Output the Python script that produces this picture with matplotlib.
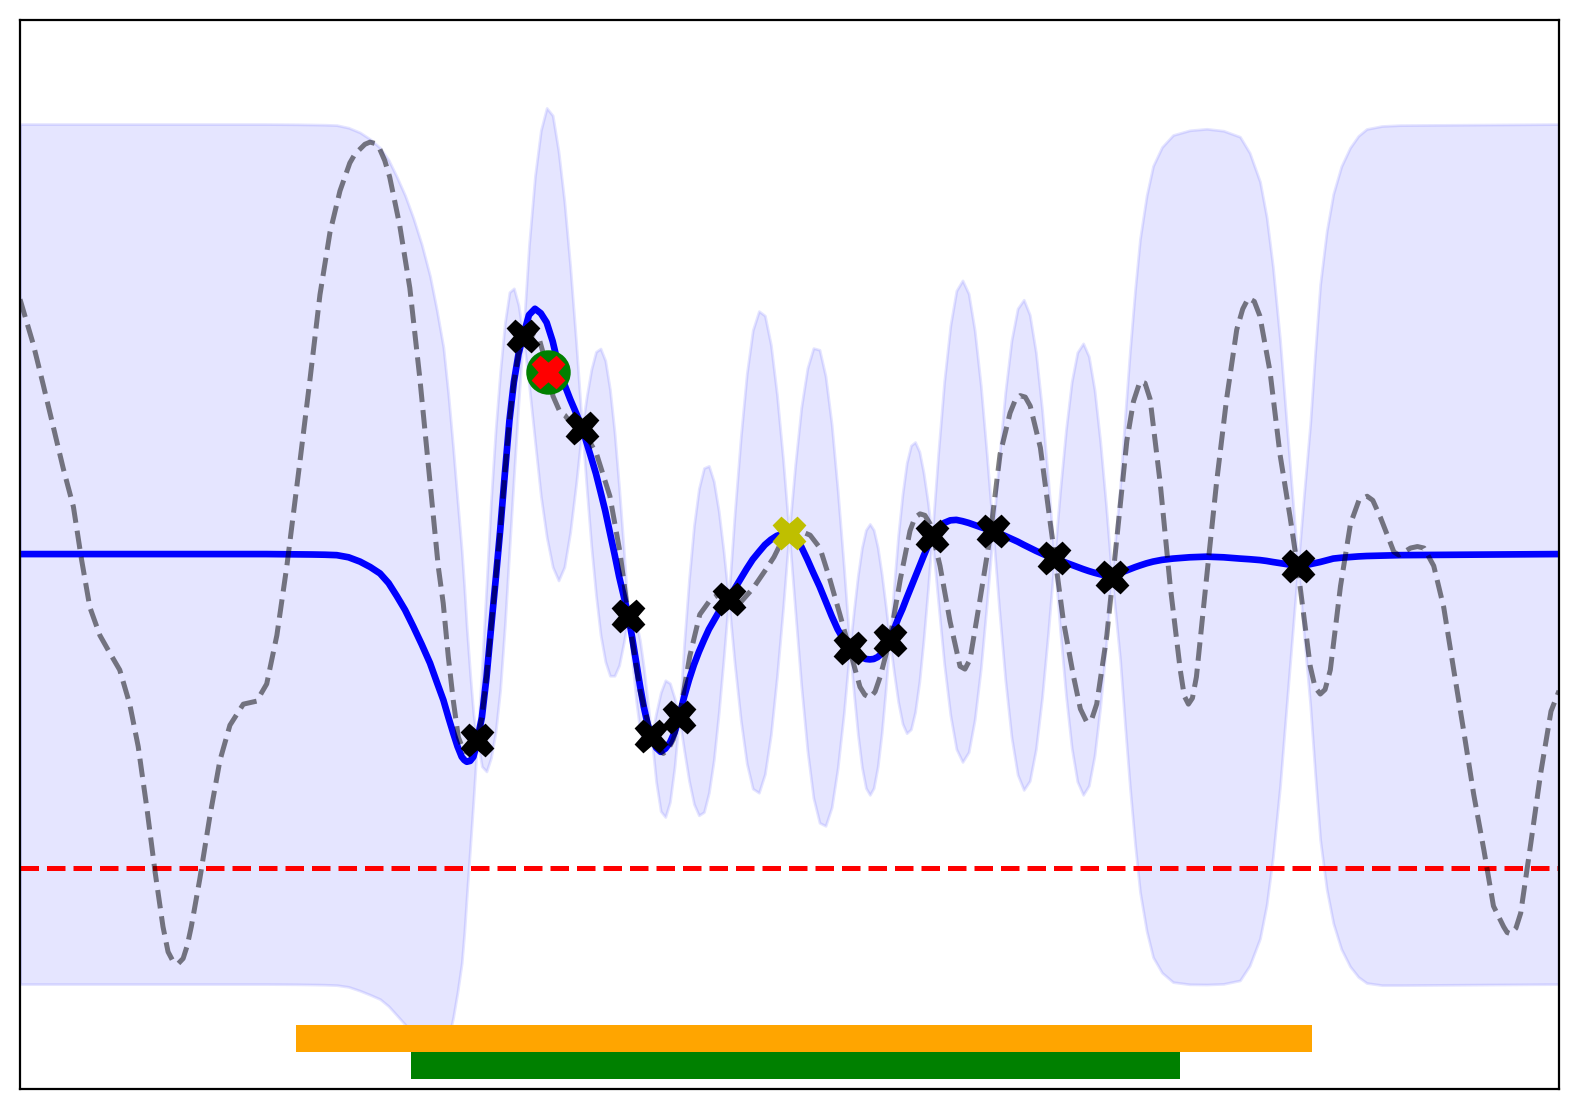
import matplotlib
matplotlib.use("Agg")
import matplotlib.pyplot as plt
import numpy as np

# posterior of the surrogate: grid, mean and standard deviation
grid_x = [0.0, 1.0, 1.6, 1.8, 1.9, 1.98, 2.058, 2.135, 2.209, 2.275, 2.339, 2.395, 2.448, 2.502,
          2.556, 2.610, 2.664, 2.708, 2.751, 2.783, 2.815, 2.843, 2.870, 2.887, 2.903, 2.925, 2.946, 2.958,
          2.971, 3.001, 3.031, 3.060, 3.090, 3.120, 3.150, 3.180, 3.209, 3.239,
          3.269, 3.307, 3.346, 3.384, 3.422, 3.461, 3.499, 3.537, 3.575, 3.614,
          3.652, 3.682, 3.712, 3.742, 3.772, 3.803, 3.833, 3.863, 3.893, 3.923,
          3.953, 3.978, 4.003, 4.028, 4.053, 4.078,
          4.103, 4.133, 4.163, 4.193, 4.223, 4.253,
          4.283, 4.315, 4.347, 4.379, 4.411, 4.444, 4.476, 4.508, 4.540, 4.572,
          4.604, 4.643, 4.683, 4.722, 4.761, 4.801, 4.840, 4.879, 4.918, 4.958,
          4.997, 5.037, 5.076, 5.116, 5.155, 5.195, 5.234, 5.274, 5.313, 5.353,
          5.392, 5.418, 5.444, 5.470, 5.496, 5.522, 5.547, 5.573, 5.599, 5.625,
          5.651, 5.679, 5.706, 5.734, 5.761, 5.789, 5.816, 5.844, 5.871, 5.899,
          5.926, 5.966, 6.005, 6.045, 6.084, 6.124, 6.164, 6.203, 6.243, 6.282,
          6.322, 6.362, 6.402, 6.442, 6.482, 6.522, 6.561, 6.601, 6.641, 6.681,
          6.721, 6.758, 6.796, 6.833, 6.870, 6.908, 6.945, 6.982, 7.019, 7.057,
          7.094, 7.121, 7.148, 7.180, 7.212, 7.245, 7.277, 7.320, 7.362, 7.420, 7.492,
          7.600, 7.711, 7.820, 7.927, 7.990, 8.057, 8.100, 8.141, 8.187, 8.231, 8.268,
          8.304, 8.343, 8.383, 8.415, 8.448, 8.490, 8.533, 8.585, 8.642, 8.696, 8.750, 8.850, 8.967, 10.0]
post_mean = [0.0, 0.0, 0.0, -0.001, -0.002, -0.003, -0.005, -0.015, -0.035, -0.06, -0.09, -0.135, -0.195, -0.26,
             -0.338, -0.42, -0.507, -0.595, -0.679, -0.758, -0.833, -0.895, -0.943, -0.958, -0.966, -0.962, -0.943, -0.91,
             -0.866, -0.76, -0.575, -0.35, -0.125, 0.11, 0.37, 0.62, 0.80, 0.93,
             1.013, 1.112, 1.141, 1.12, 1.077, 0.99, 0.875, 0.79, 0.72, 0.655,
             0.588, 0.518, 0.447, 0.375, 0.29, 0.20, 0.10, 0.0, -0.105, -0.195,
             -0.287, -0.39, -0.50, -0.61, -0.71, -0.79,
             -0.847, -0.90, -0.92, -0.905, -0.877, -0.83,
             -0.760, -0.665, -0.585, -0.515, -0.455, -0.40, -0.35, -0.31, -0.27, -0.237,
             -0.210, -0.162, -0.114, -0.068, -0.025, 0.01, 0.043, 0.067, 0.085, 0.094,
             0.097, 0.076, 0.035, -0.025, -0.088, -0.15, -0.218, -0.288, -0.35, -0.40,
             -0.435, -0.455, -0.47, -0.481, -0.488, -0.49, -0.488, -0.479, -0.463, -0.435,
             -0.400, -0.35, -0.30, -0.255, -0.205, -0.155, -0.107, -0.058, -0.01, 0.037,
             0.083, 0.122, 0.145, 0.157, 0.159, 0.153, 0.145, 0.135, 0.125, 0.116,
             0.106, 0.096, 0.084, 0.071, 0.058, 0.043, 0.029, 0.015, 0.002, -0.01,
             -0.020, -0.030, -0.040, -0.050, -0.060, -0.070, -0.079, -0.087, -0.094, -0.100,
             -0.105, -0.097, -0.088, -0.079, -0.07, -0.061, -0.053, -0.043, -0.035, -0.027, -0.021,
             -0.015, -0.012, -0.015, -0.021, -0.024, -0.028, -0.032, -0.037, -0.042, -0.047, -0.051,
             -0.055, -0.051, -0.047, -0.042, -0.037, -0.029, -0.021, -0.017, -0.014, -0.011, -0.009, -0.007, -0.005, 0.0]
post_std = [1.0, 1.0, 1.0, 1.0, 1.0, 1.0, 1.0, 0.999, 0.998, 0.995, 0.99, 0.984, 0.975, 0.964,
            0.95, 0.93, 0.90, 0.865, 0.82, 0.75, 0.66, 0.57, 0.48, 0.40, 0.31, 0.20, 0.10, 0.05,
            0.0, 0.114, 0.218, 0.299, 0.352, 0.37, 0.352, 0.299, 0.218, 0.114,
            0.0, 0.162, 0.309, 0.425, 0.499, 0.525, 0.499, 0.425, 0.309, 0.162,
            0.0, 0.108, 0.206, 0.283, 0.333, 0.35, 0.333, 0.283, 0.206, 0.108,
            0.0, 0.053, 0.091, 0.105, 0.091, 0.053,
            0.0, 0.080, 0.138, 0.159, 0.138, 0.080,
            0.0, 0.124, 0.235, 0.324, 0.380, 0.40, 0.380, 0.324, 0.235, 0.124,
            0.0, 0.173, 0.329, 0.453, 0.533, 0.56, 0.533, 0.453, 0.329, 0.173,
            0.0, 0.170, 0.323, 0.445, 0.523, 0.55, 0.523, 0.445, 0.323, 0.170,
            0.0, 0.097, 0.185, 0.255, 0.300, 0.315, 0.300, 0.255, 0.185, 0.097,
            0.0, 0.102, 0.194, 0.267, 0.314, 0.33, 0.314, 0.267, 0.194, 0.102,
            0.0, 0.173, 0.329, 0.453, 0.533, 0.56, 0.533, 0.453, 0.329, 0.173,
            0.0, 0.176, 0.335, 0.461, 0.542, 0.57, 0.542, 0.461, 0.335, 0.176,
            0.0, 0.162, 0.309, 0.425, 0.499, 0.525, 0.499, 0.425, 0.309, 0.162,
            0.0, 0.10, 0.202, 0.36, 0.509, 0.645, 0.759, 0.855, 0.920, 0.960, 0.985,
            0.993, 0.995, 0.992, 0.981, 0.945, 0.880, 0.800, 0.686, 0.52, 0.323, 0.16,
            0.0, 0.165, 0.326, 0.49, 0.646, 0.765, 0.848, 0.91, 0.952, 0.978, 0.993, 0.999, 1.0, 1.0]

# objective function (dashed)
true_x = [0.0, 0.085, 0.151, 0.216, 0.281, 0.347, 0.399, 0.454, 0.519, 0.582, 0.648, 0.713, 0.768, 0.825,
          0.877, 0.929, 0.962, 0.995, 1.028, 1.060, 1.087, 1.113, 1.169, 1.234, 1.299, 1.364, 1.451, 1.538,
          1.603, 1.669, 1.734, 1.819, 1.885, 1.949, 2.014, 2.079, 2.143, 2.176, 2.209, 2.241, 2.274, 2.306,
          2.338, 2.370, 2.402, 2.467, 2.533, 2.598, 2.664, 2.718, 2.750, 2.783, 2.815, 2.848, 2.880, 2.925,
          2.971, 3.001, 3.031, 3.060, 3.090, 3.120, 3.150, 3.180, 3.209, 3.239, 3.269, 3.310, 3.372, 3.433,
          3.463, 3.509, 3.541, 3.573, 3.652, 3.747, 3.833, 3.898, 3.953, 4.029, 4.103, 4.140, 4.180, 4.210,
          4.245, 4.283, 4.352, 4.417, 4.483, 4.548, 4.604, 4.673, 4.762, 4.848, 4.899, 4.950, 4.997, 5.060,
          5.134, 5.198, 5.262, 5.327, 5.393, 5.458, 5.490, 5.524, 5.556, 5.589, 5.651, 5.720, 5.783, 5.815,
          5.848, 5.880, 5.913, 5.978, 6.043, 6.108, 6.140, 6.173, 6.237, 6.302, 6.368, 6.433, 6.466, 6.499,
          6.532, 6.564, 6.630, 6.695, 6.726, 6.780, 6.846, 6.890, 6.931, 6.965, 6.996, 7.062, 7.127, 7.192,
          7.235, 7.277, 7.310, 7.343, 7.408, 7.474, 7.539, 7.565, 7.592, 7.618, 7.644, 7.709, 7.775, 7.840,
          7.906, 7.945, 7.981, 8.020, 8.056, 8.122, 8.187, 8.253, 8.305, 8.383, 8.415, 8.449, 8.480, 8.514,
          8.580, 8.645, 8.700, 8.753, 8.790, 8.840, 8.927, 8.960, 9.035, 9.080, 9.123, 9.186, 9.251, 9.316,
          9.382, 9.446, 9.512, 9.574, 9.640, 9.663, 9.686, 9.720, 9.751, 9.817, 9.880, 9.948, 10.0]
true_y = [1.185, 0.979, 0.787, 0.592, 0.398, 0.220, -0.022, -0.248, -0.378, -0.458, -0.539, -0.698, -0.895, -1.185,
          -1.475, -1.733, -1.85, -1.895, -1.905, -1.881, -1.82, -1.733, -1.508, -1.218, -0.960, -0.796, -0.698, -0.684,
          -0.604, -0.378, -0.055, 0.431, 0.817, 1.206, 1.496, 1.689, 1.819, 1.86, 1.883, 1.906, 1.916, 1.91,
          1.883, 1.83, 1.754, 1.530, 1.237, 0.817, 0.334, -0.060, -0.229, -0.478, -0.680, -0.851, -0.912, -0.930,
          -0.866, -0.76, -0.575, -0.35, -0.125, 0.11, 0.37, 0.62, 0.80, 0.93, 1.013, 1.03, 1.005, 0.848,
          0.735, 0.66, 0.645, 0.615, 0.588, 0.464, 0.269, 0.010, -0.288, -0.636, -0.848, -0.90, -0.927, -0.91,
          -0.862, -0.761, -0.475, -0.281, -0.215, -0.183, -0.211, -0.232, -0.16, -0.07, -0.014, 0.06, 0.096, 0.11,
          0.088, 0.028, -0.117, -0.280, -0.45, -0.618, -0.655, -0.668, -0.64, -0.571, -0.400, -0.117, 0.108, 0.17,
          0.187, 0.18, 0.141, -0.055, -0.313, -0.522, -0.535, -0.490, -0.215, 0.075, 0.464, 0.656, 0.715, 0.737,
          0.73, 0.689, 0.495, 0.141, -0.022, -0.313, -0.571, -0.72, -0.781, -0.765, -0.698, -0.378, 0.075, 0.527,
          0.71, 0.802, 0.795, 0.721, 0.334, -0.150, -0.539, -0.66, -0.698, -0.67, -0.571, -0.117, 0.334, 0.721,
          1.044, 1.14, 1.190, 1.175, 1.108, 0.850, 0.464, 0.17, -0.08, -0.52, -0.62, -0.651, -0.63, -0.539,
          -0.150, 0.141, 0.25, 0.269, 0.25, 0.170, 0.010, -0.005, 0.028, 0.035, 0.028, -0.055, -0.248, -0.539,
          -0.829, -1.119, -1.377, -1.637, -1.733, -1.76, -1.766, -1.74, -1.670, -1.344, -1.023, -0.731, -0.636]

# evaluated points
obs_x = [2.971, 3.269, 3.652, 3.953, 4.103, 4.283, 4.604, 5.392, 5.651, 5.926, 6.322, 6.721, 7.094, 8.304]
obs_y = [-0.866, 1.013, 0.588, -0.287, -0.847, -0.760, -0.210, -0.435, -0.400, 0.083, 0.106, -0.020, -0.105, -0.055]
best_x = [4.997]
best_y = [0.097]
query_x = [3.433]
query_y = [0.848]

threshold = -1.461
orange_span = (1.791, 8.397)
green_span = (2.541, 7.537)

gx = np.array(grid_x)
mu = np.array(post_mean)
sd = np.array(post_std)

fig = plt.figure(figsize=(7.895, 5.55), dpi=200)
ax = fig.add_axes([0.01267, 0.01892, 0.97467, 0.96306])

ax.fill_between(gx, mu - 2 * sd, mu + 2 * sd, color='b', alpha=0.1, zorder=1)
ax.axhline(threshold, color='r', ls='--', lw=1.8, zorder=2)
ax.plot(gx, mu, color='b', lw=2.4, zorder=2)
ax.plot(true_x, true_y, 'k--', alpha=0.5, lw=1.8, zorder=3)

ax.broken_barh([(orange_span[0], orange_span[1] - orange_span[0])], (-2.316, 0.125),
               facecolors='orange', zorder=4)
ax.broken_barh([(green_span[0], green_span[1] - green_span[0])], (-2.442, 0.126),
               facecolors='g', zorder=4)

ax.plot(obs_x, obs_y, 'X', color='k', ms=11, zorder=5)
ax.plot(best_x, best_y, 'X', color='y', ms=11, zorder=5)
ax.plot(query_x, query_y, 'o', color='g', ms=15, zorder=5)
ax.plot(query_x, query_y, 'X', color='r', ms=11, zorder=6)

ax.set_xlim(0, 10)
ax.set_ylim(-2.488, 2.484)
ax.set_xticks([])
ax.set_yticks([])

fig.savefig("out.png", dpi=200)
